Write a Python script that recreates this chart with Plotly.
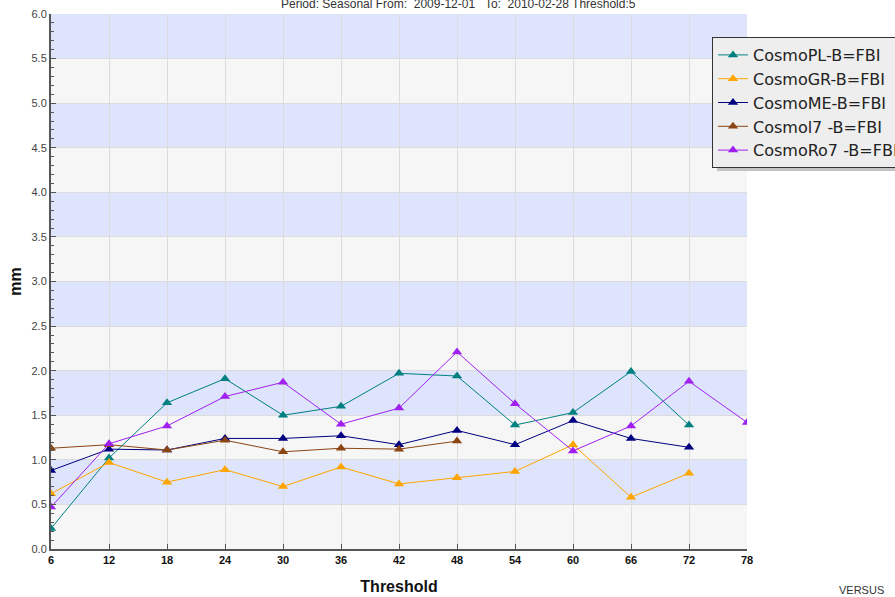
import plotly.graph_objects as go

thresholds = [6, 12, 18, 24, 30, 36, 42, 48, 54, 60, 66, 72, 78]

series_names = ["CosmoPL-B=FBI", "CosmoGR-B=FBI", "CosmoME-B=FBI", "Cosmol7 -B=FBI", "CosmoRo7 -B=FBI"]
cosmo_pl = [0.23, 1.02, 1.64, 1.91, 1.50, 1.60, 1.97, 1.94, 1.39, 1.53, 1.99, 1.39]
cosmo_gr = [0.62, 0.97, 0.75, 0.89, 0.70, 0.92, 0.73, 0.80, 0.87, 1.17, 0.58, 0.85]
cosmo_me = [0.88, 1.12, 1.11, 1.24, 1.24, 1.27, 1.17, 1.33, 1.17, 1.44, 1.24, 1.14]
cosmo_i7 = [1.13, 1.17, 1.11, 1.22, 1.09, 1.13, 1.12, 1.21]
cosmo_ro7 = [0.47, 1.18, 1.38, 1.71, 1.87, 1.40, 1.58, 2.21, 1.63, 1.10, 1.38, 1.88, 1.42]
colors = ["#008080", "#FFA500", "#000080", "#8B4513", "#A020F0"]

y_ticks = [i * 0.5 for i in range(13)]
x_tick_labels = [str(t) for t in thresholds]

fig = go.Figure()
for name, vals, col in zip(series_names, [cosmo_pl, cosmo_gr, cosmo_me, cosmo_i7, cosmo_ro7], colors):
    fig.add_trace(go.Scatter(
        x=thresholds[:len(vals)], y=vals, name=name, mode="lines+markers",
        line=dict(color=col, width=1),
        marker=dict(symbol="triangle-up", size=9, color=col),
    ))

# alternating background bands
shapes = []
for i in range(len(y_ticks) - 1):
    shapes.append(dict(
        type="rect", xref="paper", yref="y", x0=0, x1=1, y0=y_ticks[i], y1=y_ticks[i + 1],
        fillcolor="#dde4fb" if i % 2 == 1 else "#f6f6f6", line=dict(width=0), layer="below",
    ))
# legend drop shadow
shapes.append(dict(
    type="rect", xref="paper", yref="paper",
    x0=(717 - 51) / 696, x1=(900 - 51) / 696, y0=(549 - 171) / 535, y1=(549 - 41) / 535,
    fillcolor="#c4c4c4", line=dict(width=0), layer="above",
))

fig.update_layout(
    width=895, height=597,
    margin=dict(l=51, r=148, t=14, b=48, autoexpand=False),
    paper_bgcolor="white", plot_bgcolor="rgba(0,0,0,0)",
    shapes=shapes,
    showlegend=True,
    legend=dict(
        x=(712 - 51) / 696, y=(549 - 37) / 535, xanchor="left", yanchor="top",
        bgcolor="#eeeeee", bordercolor="#333333", borderwidth=1,
        font=dict(family="DejaVu Sans, Verdana, sans-serif", size=16, color="#222222"),
        tracegroupgap=0, itemwidth=30,
    ),
    font=dict(family="Liberation Sans, Arial, sans-serif", color="#333333"),
    xaxis=dict(
        range=[6, 78], tickmode="array", tickvals=thresholds, ticktext=x_tick_labels,
        showgrid=True, gridcolor="#dcdcdc", gridwidth=1, zeroline=False,
        showline=True, linecolor="#555555", linewidth=2, automargin=False,
        ticks="inside", ticklen=5, tickcolor="#555555",
        tickfont=dict(family="Liberation Sans Narrow, Arial Narrow, sans-serif", size=11, color="#111111", weight="bold"),
        title=dict(text="Threshold", font=dict(size=16, color="#111111", weight="bold"), standoff=16),
    ),
    yaxis=dict(
        range=[0, 6], tickmode="array", tickvals=y_ticks, ticktext=[f"{v:.1f}" for v in y_ticks],
        showgrid=True, gridcolor="#dcdcdc", gridwidth=1, zeroline=False,
        showline=True, linecolor="#555555", linewidth=2, automargin=False,
        ticks="inside", ticklen=5, tickcolor="#555555",
        minor=dict(dtick=0.1, ticks="inside", ticklen=3, tickcolor="#555555", showgrid=False),
        tickfont=dict(size=11, color="#444444"),
        title=dict(text="mm", font=dict(size=16, color="#111111", weight="bold"), standoff=6),
    ),
    annotations=[
        dict(text="Period: Seasonal From:  2009-12-01   To:  2010-02-28 Threshold:5",
             xref="paper", yref="paper", x=(459 - 51) / 696, y=1, yanchor="middle", yshift=10,
             showarrow=False, font=dict(size=12, color="#333333")),
        dict(text="VERSUS", xref="paper", yref="paper", x=1.165, y=-0.077, xanchor="center",
             yanchor="middle", showarrow=False, font=dict(size=11, color="#333333")),
    ],
)
fig.update_xaxes(layer="above traces")
fig.update_yaxes(layer="above traces")

fig.write_html("out.html", config={"displayModeBar": False},
               post_script="document.body.style.margin='0px';document.body.style.overflow='hidden';")
